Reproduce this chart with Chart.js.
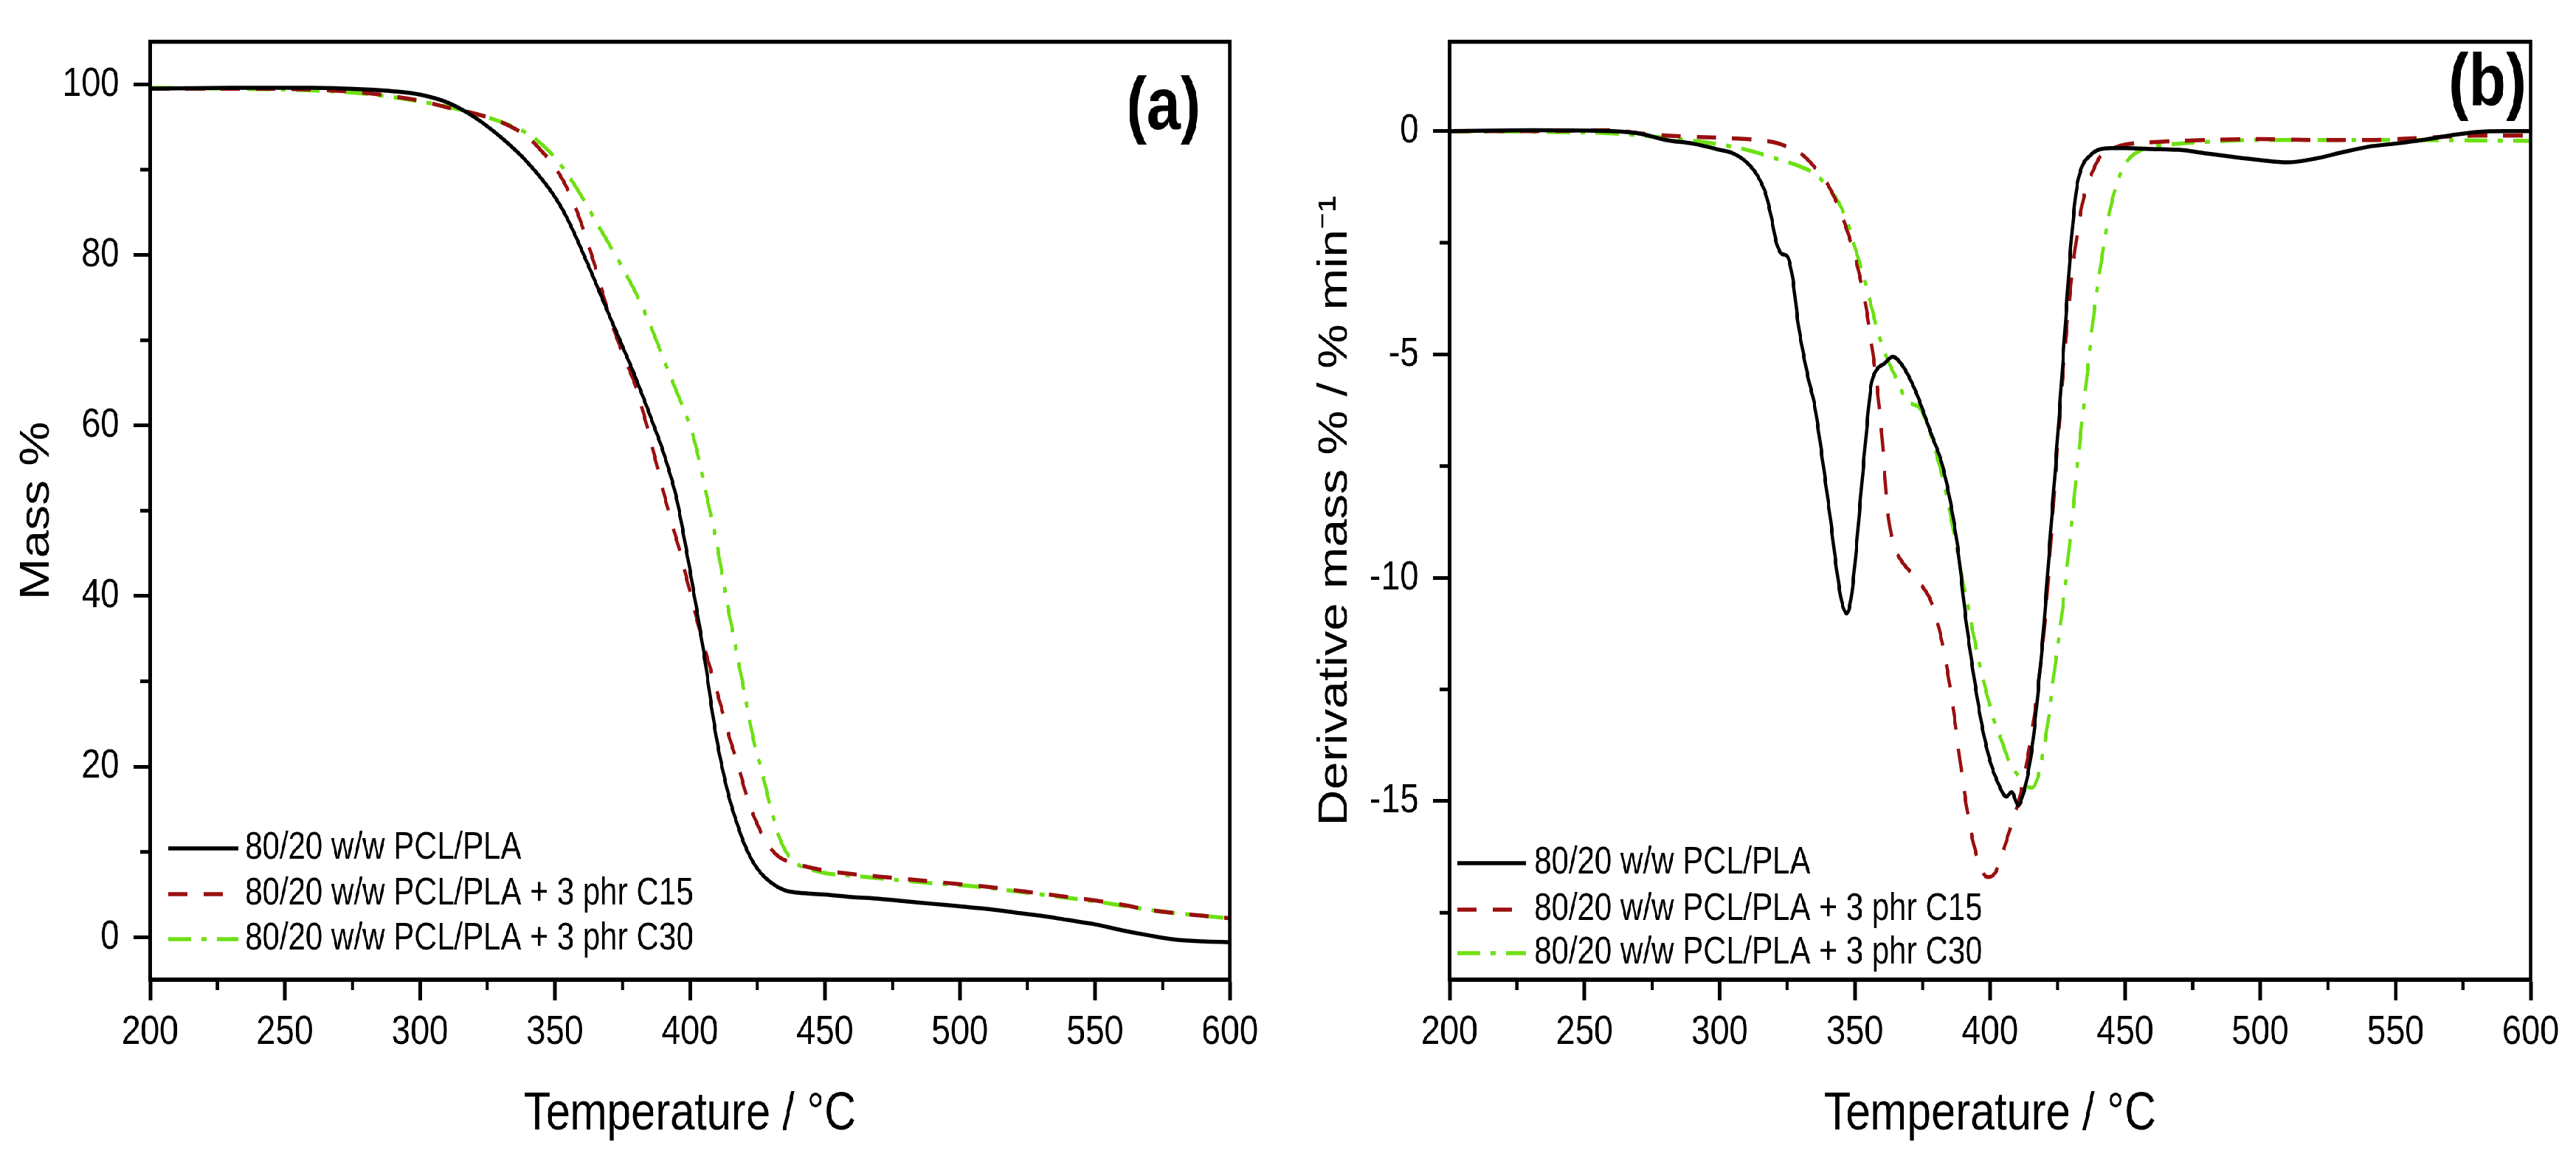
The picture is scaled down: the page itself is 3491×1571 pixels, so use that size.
<!DOCTYPE html>
<html>
<head>
<meta charset="utf-8">
<script src="https://cdn.jsdelivr.net/npm/chart.js@4.4.1/dist/chart.umd.min.js"></script>
<style>
  html, body { margin: 0; padding: 0; background: #fff; overflow: hidden; }
  /* the original figure is horizontally compressed; draw wide and squeeze */
  #wrap { position: relative; width: 4227px; height: 1571px; transform: scaleX(0.826); transform-origin: 0 0; }
  .panel { position: absolute; top: 0; height: 1571px; }
</style>
</head>
<body>
<div id="wrap">
  <div class="panel" style="left:0;width:2113px"><canvas id="tgaChart" width="2113" height="1571"></canvas></div>
  <div class="panel" style="left:2113px;width:2114px"><canvas id="dtgChart" width="2114" height="1571"></canvas></div>
</div>
<script>
// labels and ticks
const seriesLabels = ['80/20 w/w PCL/PLA', '80/20 w/w PCL/PLA + 3 phr C15', '80/20 w/w PCL/PLA + 3 phr C30'];
const tempTicks = [200, 250, 300, 350, 400, 450, 500, 550, 600];
const tempMinorTicks = [225, 275, 325, 375, 425, 475, 525, 575];
const massTicks = [0, 20, 40, 60, 80, 100];
const massMinorTicks = [10, 30, 50, 70, 90];
const derivTicks = [-15, -10, -5, 0];
const derivMinorTicks = [-17.5, -12.5, -7.5, -2.5];

// (a) mass % vs temperature
const tgaTempBlend = [200,230,260,280,290,300,310,320,330,340,350,355,360,365,370,375,380,386,390,395,400,403,406,408,410,412,415,418,420,423,426,430,435,440,450,460,470,480,490,500,510,520,530,540,550,560,570,580,590,600];
const tgaMassBlend = [99.5,99.6,99.6,99.4,99.2,98.8,97.9,96.2,93.8,90.8,86.8,84,80.5,76.8,73,69.3,65.5,60.5,57,51.5,43,37.5,31.5,27,23,19.8,15.8,12.8,11,9,7.6,6.4,5.5,5.2,5.0,4.7,4.5,4.2,3.9,3.6,3.3,2.9,2.5,2.0,1.5,0.8,0.2,-0.3,-0.5,-0.6];
const tgaTempC15 = [200,230,260,280,290,300,310,320,330,340,345,350,355,360,365,370,375,380,384,388,392,396,400,404,408,412,415,418,421,425,429,433,437,440,450,460,470,480,490,500,510,520,530,540,550,560,570,580,590,600];
const tgaMassC15 = [99.5,99.5,99.4,99.0,98.6,98.1,97.3,96.6,95.6,93.8,92.2,90.3,87.5,83.5,78.5,73,68.5,64.5,60,55,50,45.5,40.5,35.5,31,26.5,23,20,16.5,13.2,10.8,9.4,8.8,8.5,7.8,7.4,7.1,6.8,6.5,6.2,5.9,5.5,5.1,4.7,4.3,3.8,3.2,2.8,2.5,2.2];
const tgaTempC30 = [200,230,260,280,290,300,310,320,330,340,345,350,355,360,365,370,375,380,385,390,395,400,403,406,410,413,416,420,424,427,430,433,436,440,445,450,460,470,480,490,500,510,520,530,540,550,560,570,580,590,600];
const tgaMassC30 = [99.6,99.5,99.3,98.9,98.5,98.0,97.4,96.6,95.6,94.2,93.0,91.4,89.3,86.8,84.0,81.3,78.5,75.5,72.0,68.0,64.0,60.0,56.5,52.0,46.0,40.5,35.5,29.0,22.5,19.0,15.0,11.8,9.8,8.5,7.9,7.5,7.2,6.9,6.6,6.3,6.1,5.8,5.4,5.0,4.6,4.2,3.7,3.2,2.8,2.5,2.2];

// (b) derivative mass vs temperature
const dtgTempBlend = [200,230,260,270,280,290,300,305,310,314,317,319,321,323,325,327,329,331,333,335,337,339,341,343,345,347,348.5,350,352,354,356,358,361,364,367,370,373,376,379,382,385,388,391,394,397,400,403,406,408,410.5,412,414,416,418,420,422,424,426,428,430,432,434,437,440,445,450,460,470,480,490,500,510,520,530,540,550,560,570,580,590,600];
const dtgRateBlend = [0,0.02,0,-0.05,-0.2,-0.28,-0.42,-0.5,-0.7,-1.0,-1.4,-1.9,-2.5,-2.75,-2.8,-3.3,-4.3,-5.0,-5.6,-6.1,-6.9,-7.8,-8.7,-9.7,-10.5,-10.8,-10.5,-9.7,-8.3,-6.9,-5.7,-5.35,-5.2,-5.05,-5.2,-5.5,-5.9,-6.4,-6.9,-7.4,-8.2,-9.3,-10.9,-12.2,-13.3,-14.1,-14.6,-14.9,-14.8,-15.1,-14.9,-14.4,-13.6,-12.4,-11.0,-9.3,-7.7,-6.0,-4.2,-2.5,-1.3,-0.8,-0.55,-0.42,-0.38,-0.38,-0.4,-0.42,-0.5,-0.58,-0.65,-0.7,-0.62,-0.48,-0.35,-0.28,-0.2,-0.1,-0.02,0,0];
const dtgTempC15 = [200,230,260,270,280,300,310,320,325,330,335,340,344,347,350,352,354,356,358,360,362,364,367,371,375,378,381,384,387,390,393,396,399,402,405,408,411,414,417,420,423,426,429,432,435,438,441,445,450,460,480,500,520,540,560,580,600];
const dtgRateC15 = [0,0,0.02,-0.05,-0.1,-0.15,-0.18,-0.25,-0.35,-0.5,-0.8,-1.2,-1.7,-2.2,-2.8,-3.3,-3.9,-4.7,-5.6,-6.8,-8.4,-9.2,-9.6,-9.9,-10.2,-10.5,-11.1,-12.0,-13.2,-14.6,-15.7,-16.4,-16.7,-16.6,-16.1,-15.5,-14.9,-14.0,-12.8,-11.2,-8.8,-6.2,-4.0,-2.4,-1.4,-0.9,-0.55,-0.4,-0.3,-0.25,-0.2,-0.18,-0.2,-0.2,-0.15,-0.1,-0.1];
const dtgTempC30 = [200,240,260,280,300,310,320,330,335,340,344,347,350,353,356,359,362,365,368,371,374,377,380,383,386,389,392,395,398,401,404,407,410,413,415.5,418,421,424,427,430,433,436,439,442,445,448,451,455,460,470,480,500,550,600];
const dtgRateC30 = [0,-0.02,-0.05,-0.15,-0.3,-0.42,-0.6,-0.8,-0.95,-1.25,-1.6,-2.0,-2.6,-3.2,-3.9,-4.6,-5.1,-5.5,-5.9,-6.1,-6.2,-6.6,-7.2,-7.9,-8.8,-9.8,-10.7,-11.6,-12.4,-13.1,-13.6,-14.1,-14.4,-14.65,-14.7,-14.4,-13.4,-12.0,-10.6,-8.9,-7.1,-5.4,-3.8,-2.6,-1.6,-1.0,-0.65,-0.45,-0.35,-0.28,-0.24,-0.2,-0.2,-0.22];

const FONT = '"Liberation Sans", Arial, sans-serif';
const lineStyles = [
    { color: '#000000', dash: [] },
    { color: '#9a1010', dash: [32, 26] },
    { color: '#6ee014', dash: [38, 17, 8, 17] }
];

function toPoints(xs, ys) {
    return xs.map((x, i) => ({ x: x, y: ys[i] }));
}

function makeDatasets(pairs) {
    return pairs.map((p, i) => ({
        label: seriesLabels[i],
        data: toPoints(p[0], p[1]),
        borderColor: lineStyles[i].color,
        borderDash: lineStyles[i].dash,
        borderWidth: 5.5,
        pointRadius: 0,
        fill: false,
        cubicInterpolationMode: 'monotone'
    }));
}

// frame, minor ticks, panel tag and the legend inside the plot
const panelDecor = {
    id: 'panelDecor',
    afterDatasetsDraw(chart, args, opts) {
        const ctx = chart.ctx;
        const area = chart.chartArea;
        const xs = chart.scales.x, ys = chart.scales.y;
        ctx.save();
        ctx.strokeStyle = '#000';
        ctx.lineWidth = 5.5;
        ctx.strokeRect(area.left, area.top, area.right - area.left, area.bottom - area.top);

        ctx.lineWidth = 5;
        ctx.beginPath();
        opts.xMinor.forEach(v => {
            const px = xs.getPixelForValue(v);
            ctx.moveTo(px, area.bottom);
            ctx.lineTo(px, area.bottom + 14);
        });
        opts.yMinor.forEach(v => {
            const py = ys.getPixelForValue(v);
            ctx.moveTo(area.left, py);
            ctx.lineTo(area.left - 16, py);
        });
        ctx.stroke();

        ctx.fillStyle = '#000';
        ctx.font = 'bold 100px ' + FONT;
        ctx.textAlign = 'center';
        ctx.textBaseline = 'alphabetic';
        ctx.fillText(opts.tag, area.right - opts.tagRight, area.top + opts.tagBase);

        ctx.font = '51px ' + FONT;
        ctx.textAlign = 'left';
        ctx.textBaseline = 'middle';
        chart.data.datasets.forEach((ds, i) => {
            const y = area.bottom - opts.legendRows[i];
            ctx.strokeStyle = ds.borderColor;
            ctx.lineWidth = ds.borderWidth;
            ctx.setLineDash(ds.borderDash);
            ctx.beginPath();
            ctx.moveTo(area.left + opts.legendX0, y);
            ctx.lineTo(area.left + opts.legendX1, y);
            ctx.stroke();
            ctx.setLineDash([]);
            ctx.fillText(ds.label, area.left + opts.legendText, y);
        });
        ctx.restore();
    }
};

function makeChart(canvasId, datasets, p) {
    return new Chart(document.getElementById(canvasId), {
        type: 'line',
        data: { datasets: datasets },
        options: {
            responsive: false,
            animation: false,
            layout: { padding: { left: 0, top: 33, right: p.padRight, bottom: 0 } },
            plugins: {
                legend: { display: false },
                tooltip: { enabled: false },
                panelDecor: p.decor
            },
            scales: {
                x: {
                    type: 'linear',
                    min: 200,
                    max: 600,
                    afterBuildTicks: (axis) => { axis.ticks = tempTicks.map(v => ({ value: v })); },
                    afterFit: (axis) => { axis.height = 243; },
                    grid: { drawOnChartArea: false, drawTicks: true, tickLength: 28, tickWidth: 6, tickColor: '#000' },
                    border: { display: true, color: '#000', width: 5.5 },
                    ticks: { color: '#000', font: { family: FONT, size: 56 }, padding: 10, maxRotation: 0, autoSkip: false },
                    title: { display: true, text: 'Temperature / °C', color: '#000', font: { family: FONT, size: 72 }, padding: { top: 0, bottom: 17 } }
                },
                y: {
                    type: 'linear',
                    min: p.yMin,
                    max: p.yMax,
                    afterBuildTicks: (axis) => { axis.ticks = p.yTicks.map(v => ({ value: v })); },
                    afterFit: (axis) => { axis.width = p.yWidth; },
                    grid: { drawOnChartArea: false, drawTicks: true, tickLength: 27, tickWidth: 5, tickColor: '#000' },
                    border: { display: true, color: '#000', width: 6 },
                    ticks: { color: '#000', font: { family: FONT, size: 56 }, padding: 23, autoSkip: false },
                    title: { display: true, text: p.yTitle, color: '#000', font: { family: FONT, size: 68 }, padding: { top: p.yTitlePad, bottom: 0 } }
                }
            }
        },
        plugins: [panelDecor]
    });
}

makeChart('tgaChart', makeDatasets([
    [tgaTempBlend, tgaMassBlend],
    [tgaTempC15, tgaMassC15],
    [tgaTempC30, tgaMassC30]
]), {
    padRight: 95, yMin: -5, yMax: 105, yTicks: massTicks, yWidth: 246,
    yTitle: 'Mass %', yTitlePad: 20,
    decor: { xMinor: tempMinorTicks, yMinor: massMinorTicks, tag: '(a)', tagRight: 109, tagBase: 118,
             legendX0: 30, legendX1: 145, legendText: 156, legendRows: [178, 116, 55] }
});

makeChart('dtgChart', makeDatasets([
    [dtgTempBlend, dtgRateBlend],
    [dtgTempC15, dtgRateC15],
    [dtgTempC30, dtgRateC30]
]), {
    padRight: 75, yMin: -19, yMax: 2, yTicks: derivTicks, yWidth: 265,
    yTitle: 'Derivative mass % / % min⁻¹', yTitlePad: 37,
    decor: { xMinor: tempMinorTicks, yMinor: derivMinorTicks, tag: '(b)', tagRight: 71, tagBase: 86,
             legendX0: 13, legendX1: 126, legendText: 139, legendRows: [158, 95, 36] }
});
</script>
</body>
</html>
